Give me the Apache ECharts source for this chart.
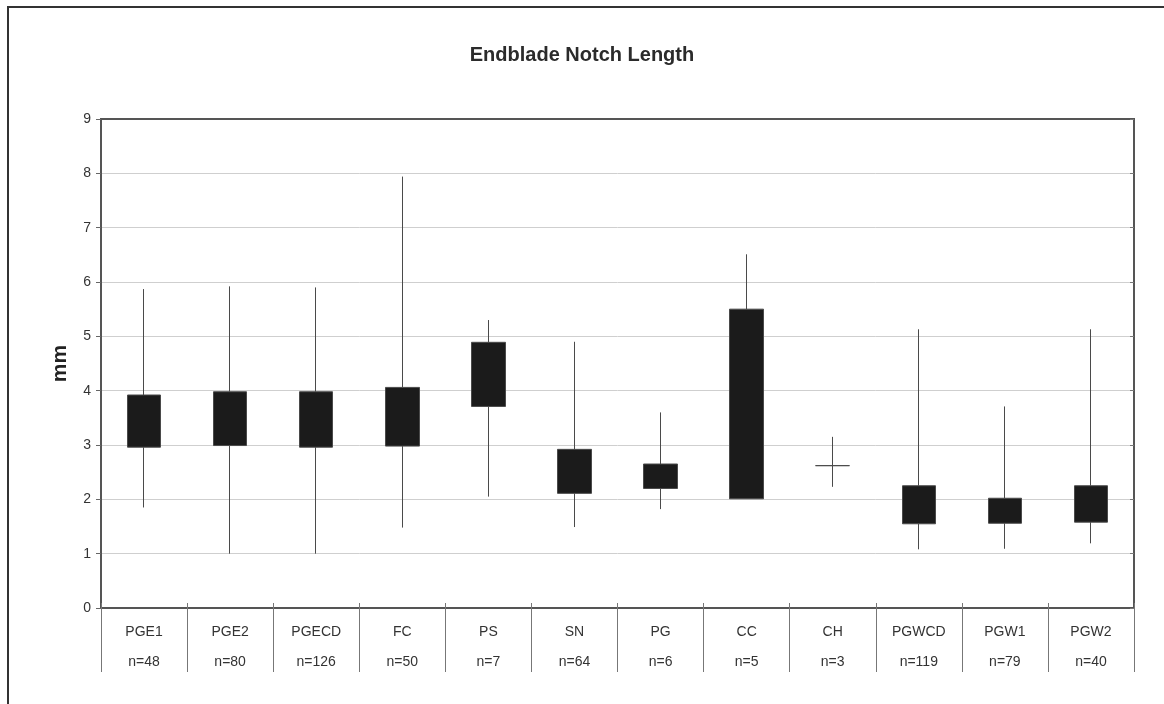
<!DOCTYPE html>
<html>
<head>
<meta charset="utf-8">
<script src="https://cdn.jsdelivr.net/npm/echarts@6/dist/echarts.min.js"></script>
<style>
html, body { margin: 0; padding: 0; background: #fff; }
#chart { width: 1164px; height: 704px; }
</style>
</head>
<body>
<div id="chart"></div>
<script>
// groups along the x axis and their sample sizes
var categories = ["PGE1", "PGE2", "PGECD", "FC", "PS", "SN", "PG", "CC", "CH", "PGWCD", "PGW1", "PGW2"];
var counts = [48, 80, 126, 50, 7, 64, 6, 5, 3, 119, 79, 40];

// notch length (mm): whisker ends and box edges
var lows  = [1.85, 1.00, 1.00, 1.48, 2.05, 1.49, 1.82, 2.01, 2.23, 1.08, 1.09, 1.19];
var boxLo = [2.96, 2.99, 2.96, 2.98, 3.71, 2.11, 2.20, 2.01, 2.62, 1.55, 1.56, 1.58];
var boxHi = [3.92, 3.98, 3.98, 4.06, 4.89, 2.92, 2.65, 5.50, 2.62, 2.25, 2.02, 2.25];
var highs = [5.87, 5.92, 5.90, 7.94, 5.30, 4.90, 3.60, 6.51, 3.15, 5.13, 3.71, 5.13];

var yTicks = [0, 1, 2, 3, 4, 5, 6, 7, 8, 9];

var font = "Liberation Sans, Arial, sans-serif";

var candleData = categories.map(function (c, i) {
    return [boxLo[i], boxHi[i], lows[i], highs[i]];
});

var chart = echarts.init(document.getElementById("chart"));
chart.setOption({
    backgroundColor: "#fff",
    animation: false,
    title: {
        text: "Endblade Notch Length",
        left: "center",
        top: 40,
        textStyle: {
            fontFamily: font,
            fontSize: 20,
            fontWeight: "bold",
            color: "#2b2b2b"
        }
    },
    graphic: [{
        type: "rect",
        shape: { x: 8, y: 7, width: 1162, height: 702 },
        style: { fill: null, stroke: "#333", lineWidth: 2 },
        silent: true
    }],
    grid: {
        left: 101,
        right: 30,
        top: 119,
        bottom: 96,
        show: true,
        borderColor: "#555",
        borderWidth: 2,
        backgroundColor: "transparent"
    },
    xAxis: [{
        type: "category",
        data: categories,
        boundaryGap: true,
        axisLine: { lineStyle: { color: "#555", width: 2 } },
        axisTick: {
            show: true,
            length: 64,
            lineStyle: { color: "#777", width: 1 }
        },
        axisLabel: {
            margin: 9,
            fontFamily: font,
            fontSize: 14,
            color: "#333",
            lineHeight: 30,
            formatter: function (v, i) {
                return v + "\nn=" + counts[i];
            }
        },
        splitLine: { show: false }
    }, {
        type: "category",
        data: categories,
        position: "bottom",
        boundaryGap: true,
        axisLine: { show: false },
        axisTick: { show: true, inside: true, length: 5, lineStyle: { color: "#777" } },
        axisLabel: { show: false }
    }, {
        type: "category",
        data: categories,
        position: "top",
        boundaryGap: true,
        axisLine: { show: true, lineStyle: { color: "#555", width: 2 } },
        axisTick: { show: false },
        axisLabel: { show: false }
    }],
    yAxis: [{
        type: "value",
        min: 0,
        max: 9,
        interval: 1,
        name: "mm",
        nameLocation: "middle",
        nameGap: 30,
        nameRotate: 90,
        nameTextStyle: {
            fontFamily: font,
            fontSize: 21,
            fontWeight: "bold",
            color: "#222"
        },
        axisLine: { show: true, lineStyle: { color: "#555", width: 2 } },
        axisTick: { show: true, length: 5, lineStyle: { color: "#666" } },
        axisLabel: {
            margin: 10,
            fontFamily: font,
            fontSize: 14,
            color: "#333",
            formatter: function (v) {
                return yTicks.indexOf(v) >= 0 ? String(v) : "";
            }
        },
        splitLine: { show: true, lineStyle: { color: "#cfcfcf", width: 1 } }
    }, {
        type: "value",
        min: 0,
        max: 9,
        interval: 1,
        position: "right",
        axisLine: { show: true, lineStyle: { color: "#555", width: 2 } },
        axisTick: { show: true, inside: true, length: 4, lineStyle: { color: "#777" } },
        axisLabel: { show: false },
        splitLine: { show: false }
    }],
    series: [{
        type: "candlestick",
        data: candleData,
        barWidth: 34,
        itemStyle: {
            color: "#1b1b1b",
            color0: "#1b1b1b",
            borderColor: "#4a4a4a",
            borderColor0: "#4a4a4a",
            borderWidth: 1
        }
    }]
});
</script>
</body>
</html>
